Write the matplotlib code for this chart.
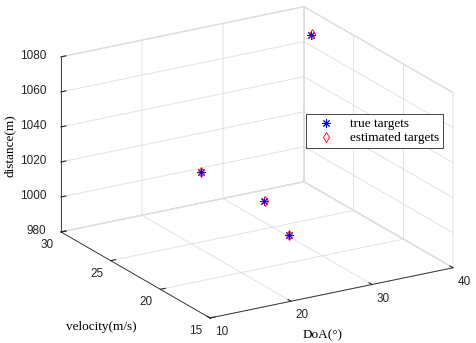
import matplotlib
matplotlib.use('Agg')
import matplotlib.pyplot as plt
import numpy as np
from mpl_toolkits.mplot3d import proj3d

# target positions (DoA in degrees, velocity in m/s, distance in m)
true_doa = [40, 15, 25, 30]
true_vel = [29.3, 20, 21.8, 23.4]
true_dist = [1066, 1042, 1010, 980.5]

est_doa = [40.1, 15.1, 25.1, 30.1]
est_vel = [29.3, 20.1, 21.8, 23.4]
est_dist = [1066.3, 1042, 1010.3, 980.8]

x_ticks = [10, 20, 30, 40]
y_ticks = [15, 20, 25, 30]
z_ticks = [980, 1000, 1020, 1040, 1060, 1080]

plt.rcParams['font.family'] = ['Liberation Sans', 'DejaVu Sans']
plt.rcParams['font.size'] = 8.5

W, H = 476, 343
fig = plt.figure(figsize=(W / 100, H / 100), dpi=100)

label_font = {'family': 'Liberation Serif', 'size': 9.5}

side = 330.0
cx, cy = 250.0, 170.0


def place(cx, cy, side):
    ax.set_position([(cx - side / 2) / W, (cy - side / 2) / H, side / W, side / H])


ax = fig.add_axes([0, 0, 1, 1], projection='3d', proj_type='ortho')
place(cx, cy, side)
ax.view_init(elev=20.2, azim=-120.9)
ax.set_box_aspect((283, 290, 186.5))

ax.plot(true_doa, true_vel, true_dist, linestyle='none', marker=(8, 2, 0),
        markersize=6, markeredgewidth=0.7, color='blue', label='true targets')
ax.plot(est_doa, est_vel, est_dist, linestyle='none', marker='d',
        markersize=5.5, markeredgewidth=0.6, markerfacecolor='none',
        color='red', label='estimated targets')

ax.set_xlim(10, 40)
ax.set_ylim(15, 30)
ax.set_zlim(980, 1080)
ax.set_xticks(x_ticks)
ax.set_yticks(y_ticks)
ax.set_zticks(z_ticks)

for axis in (ax.xaxis, ax.yaxis, ax.zaxis):
    axis.set_pane_color((1, 1, 1, 1))
    axis.pane.set_edgecolor('#dedede')
    axis.line.set_color('#262626')
    axis.line.set_linewidth(0.6)
    axis._axinfo['grid']['color'] = '#dedede'
    axis._axinfo['grid']['linewidth'] = 0.6
    axis._axinfo['tick']['inward_factor'] = 0.0
    axis._axinfo['tick']['outward_factor'] = 0.25
    axis._axinfo['tick']['color'] = '#262626'
ax.tick_params(colors='#262626', labelsize=8.5)
ax.tick_params(axis='x', pad=-3)
ax.tick_params(axis='y', pad=-3)
ax.tick_params(axis='z', pad=-2)

# line the 3D box up with the reference corners
targets = {(10, 30, 980): (61, H - 232), (40, 15, 980): (453, H - 268)}


def px(pt):
    xs, ys, _ = proj3d.proj_transform(*pt, ax.get_proj())
    return np.array(ax.transData.transform((xs, ys)))


fig.canvas.draw()
a_m, c_m = px((10, 30, 980)), px((40, 15, 980))
a_t, c_t = np.array(targets[(10, 30, 980)]), np.array(targets[(40, 15, 980)])
side *= np.linalg.norm(c_t - a_t) / np.linalg.norm(c_m - a_m)
place(cx, cy, side)
fig.canvas.draw()
shift = a_t - px((10, 30, 980))
cx, cy = cx + shift[0], cy + shift[1]
place(cx, cy, side)

# MATLAB-like tick label anchoring
for lab in ax.get_xticklabels():
    lab.set_fontfamily('Liberation Sans')
    lab.set_ha('left')
    lab.set_va('top')
for lab in ax.get_yticklabels():
    lab.set_fontfamily('Liberation Sans')
    lab.set_ha('right')
    lab.set_va('top')
for lab in ax.get_zticklabels():
    lab.set_fontfamily('Liberation Sans')
    lab.set_ha('right')
    lab.set_va('center')

ax.set_xlabel('')
ax.set_ylabel('')
ax.set_zlabel('')
fig.text(10 / W, 1 - 146 / H, 'distance(m)', rotation=90, ha='center', va='center',
         fontdict=label_font)
fig.text(101 / W, 1 - 327 / H, 'velocity(m/s)', ha='center', va='center',
         fontdict=label_font)
fig.text(323 / W, 1 - 335 / H, 'DoA(°)', ha='center', va='center',
         fontdict=label_font)

leg = ax.legend(loc='upper left', bbox_to_anchor=(306 / W, 1 - 114 / H),
                bbox_transform=fig.transFigure, prop={'family': 'Liberation Serif', 'size': 9.5},
                fancybox=False, framealpha=1, edgecolor='#262626', borderpad=0.3,
                handlelength=2.4, handletextpad=0.6, labelspacing=0.15, borderaxespad=0)
leg.get_frame().set_linewidth(0.6)

fig.savefig('out.png', dpi=100)
